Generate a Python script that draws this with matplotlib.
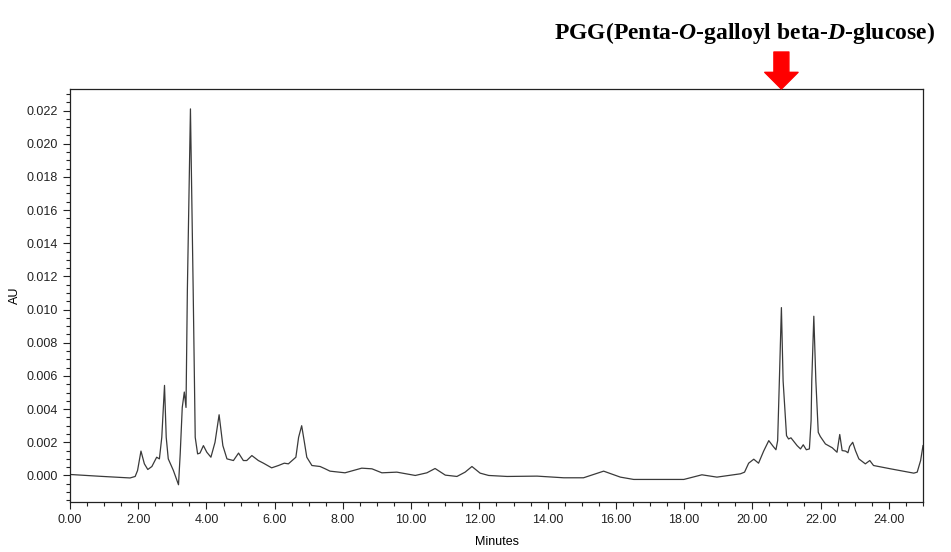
import matplotlib
matplotlib.use("Agg")
import matplotlib.pyplot as plt
from matplotlib.ticker import MultipleLocator, FormatStrFormatter

# retention time (min) and absorbance (AU)
minutes = [0.00, 0.88, 1.76, 1.91, 1.98, 2.08, 2.18, 2.28, 2.40, 2.54, 2.62, 2.69,
           2.77, 2.82, 2.88, 3.03, 3.18, 3.23, 3.29, 3.35, 3.40, 3.44, 3.53, 3.61,
           3.67, 3.74, 3.81, 3.91, 4.01, 4.13, 4.25, 4.37, 4.48, 4.60, 4.79, 4.94,
           5.08, 5.18, 5.33, 5.52, 5.67, 5.91, 6.11, 6.28, 6.40, 6.62, 6.70, 6.79,
           6.87, 6.94, 7.09, 7.33, 7.48, 7.62, 8.06, 8.55, 8.85, 9.14, 9.58, 10.12,
           10.46, 10.70, 11.00, 11.34, 11.58, 11.78, 12.02, 12.27, 12.81, 13.69,
           14.47, 15.05, 15.64, 16.13, 16.52, 17.99, 18.18, 18.52, 18.96, 19.65,
           19.77, 19.89, 20.04, 20.18, 20.33, 20.48, 20.61, 20.69, 20.74, 20.79,
           20.85, 20.90, 21.00, 21.06, 21.13, 21.31, 21.41, 21.49, 21.58, 21.67,
           21.72, 21.74, 21.80, 21.86, 21.93, 21.99, 22.14, 22.34, 22.48, 22.56,
           22.63, 22.73, 22.80, 22.85, 22.94, 23.02, 23.12, 23.31, 23.44, 23.55,
           24.05, 24.73, 24.83, 24.93, 25.00]
au = [0.00006, -0.00005, -0.00015, -0.00006, 0.0003, 0.00147, 0.0007, 0.00036,
      0.00054, 0.0011, 0.0010, 0.0023, 0.00543, 0.0023, 0.0010, 0.0003, -0.00056,
      0.0013, 0.0041, 0.00503, 0.0041, 0.0112, 0.0221, 0.0112, 0.0023, 0.0013,
      0.00135, 0.0018, 0.0014, 0.0011, 0.0020, 0.00366, 0.0018, 0.0010, 0.0009,
      0.00135, 0.0009, 0.0009, 0.0012, 0.0009, 0.00074, 0.00046, 0.0006, 0.00074,
      0.0007, 0.0011, 0.0023, 0.0030, 0.0020, 0.0011, 0.0006, 0.00054, 0.0004,
      0.00026, 0.00016, 0.00044, 0.0004, 0.00016, 0.0002, 0.0, 0.00016, 0.00042,
      0.00002, -0.00006, 0.0002, 0.00054, 0.00014, 0.0, -0.00006, -0.00004,
      -0.00014, -0.00014, 0.00026, -0.0001, -0.00024, -0.00024, -0.00014, 0.00004,
      -0.0001, 0.0001, 0.0002, 0.00074, 0.00098, 0.00074, 0.00147, 0.0021, 0.00175,
      0.00155, 0.0021, 0.0057, 0.01012, 0.0057, 0.0024, 0.0022, 0.00227, 0.0018,
      0.0016, 0.00185, 0.00155, 0.0016, 0.0033, 0.0057, 0.0096, 0.0057, 0.0026,
      0.00235, 0.0019, 0.00167, 0.0014, 0.00247, 0.0015, 0.00147, 0.00137, 0.00175,
      0.0020, 0.0015, 0.0010, 0.0007, 0.0009, 0.0006, 0.0004, 0.00014, 0.0002,
      0.0009, 0.0018]

pgg_time = 20.85
title = "PGG(Penta-$\\mathit{O}$-galloyl beta-$\\mathit{D}$-glucose)"

plt.rcParams["font.family"] = "Liberation Sans"
plt.rcParams["mathtext.fontset"] = "custom"
plt.rcParams["mathtext.it"] = "Liberation Serif:bold:italic"
plt.rcParams["mathtext.rm"] = "Liberation Serif:bold"

fig = plt.figure(figsize=(9.51, 5.52), dpi=100)
ax = fig.add_axes([70 / 951, 50 / 552, 853 / 951, 413 / 552])

ax.plot(minutes, au, color="#3a3a3a", lw=0.9)

ax.set_xlim(0, 25.0)
ax.set_ylim(-0.0016, 0.0233)
ax.xaxis.set_major_locator(MultipleLocator(2))
ax.xaxis.set_minor_locator(MultipleLocator(0.5))
ax.xaxis.set_major_formatter(FormatStrFormatter("%.2f"))
ax.yaxis.set_major_locator(MultipleLocator(0.002))
ax.yaxis.set_minor_locator(MultipleLocator(0.0005))
ax.yaxis.set_major_formatter(FormatStrFormatter("%.3f"))
ax.tick_params(which="major", length=5, width=0.8, labelsize=9, colors="#222222")
ax.tick_params(which="minor", length=3, width=0.8, colors="#222222")
for s in ax.spines.values():
    s.set_color("#222222")
    s.set_linewidth(0.9)

ax.set_xlabel("Minutes", fontsize=9, labelpad=7)
ax.set_ylabel("AU", fontsize=9, labelpad=4)

# red arrow pointing to the PGG peak
ax.annotate("", xy=(pgg_time, 1.0), xycoords=("data", "axes fraction"),
            xytext=(pgg_time, 1.0 + 37 / 413), textcoords=("data", "axes fraction"),
            arrowprops=dict(arrowstyle="simple,head_length=0.5,head_width=1.0,tail_width=0.45",
                            color="#ff0000", mutation_scale=24, shrinkA=0, shrinkB=0),
            annotation_clip=False)

fig.text(935 / 951, 1 - 33 / 552, title, ha="right", va="center",
         fontsize=17, fontweight="bold", family="Liberation Serif")

fig.savefig("out.png", dpi=100)
